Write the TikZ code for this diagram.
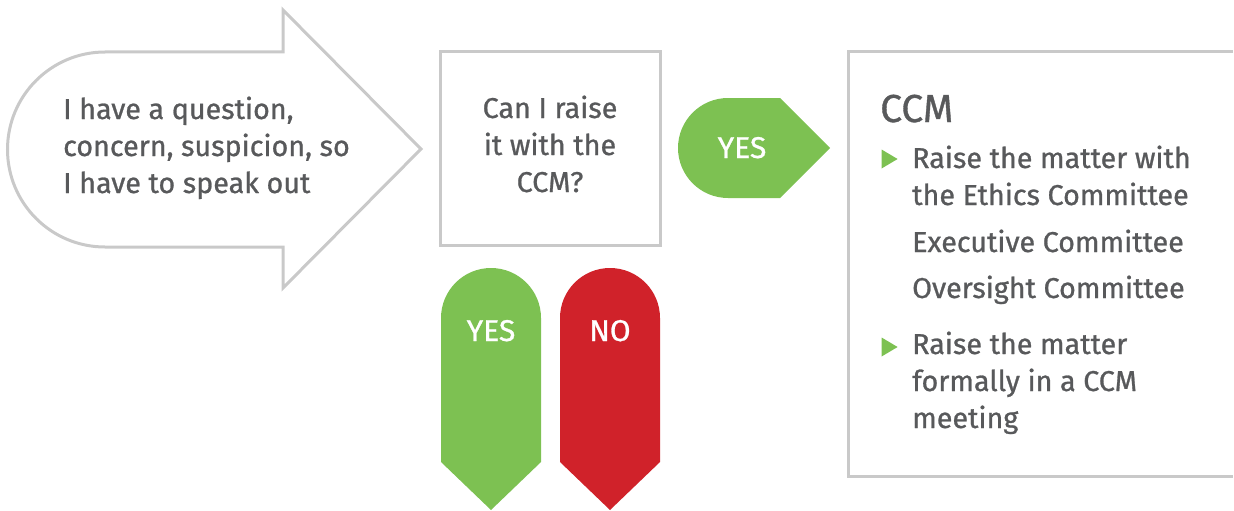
\documentclass[tikz,border=0pt]{standalone}
\usepackage{fontspec}
\setmainfont{Fira Sans}[FakeBold = 0.9]
\usetikzlibrary{shapes.geometric}
\definecolor{txtgray}{HTML}{58595B}
\definecolor{linegray}{HTML}{C9C9C9}
\definecolor{okgreen}{HTML}{7DC152}
\definecolor{nored}{HTML}{D0222A}
\tikzset{
  outline/.style = {draw = linegray, line width = 3pt, line join = miter},
  txt/.style = {text = txtgray, inner sep = 0pt, align = left,
    font = \fontsize{28.7}{37}\selectfont},
  tag/.style = {text = white, inner sep = 0pt,
    font = \fontsize{30}{32}\selectfont},
  bullet/.style = {isosceles triangle, fill = okgreen, inner sep = 0pt,
    minimum height = 16pt, minimum width = 19pt, isosceles triangle stretches}
}
\begin{document}
\begin{tikzpicture}[x = 1pt, y = -1pt]
		\useasboundingbox (0, 0) rectangle (1234, 511);
		%%%%%%%%%%%%% shapes
		\draw [outline] (105, 52) -- (283, 52) -- (283, 10) -- (421, 149)
			-- (283, 288) -- (283, 247) -- (105, 247)
			arc [start angle = 90, end angle = 270, radius = 97.5] -- cycle;
		\draw [outline] (440, 52) rectangle (660, 245);
		\fill [okgreen] (728, 98) -- (780, 98) -- (830, 148) -- (780, 198)
			-- (728, 198) arc [start angle = 90, end angle = 270, radius = 50] -- cycle;
		\draw [outline] (1233, 52) -- (848, 52) -- (848, 476) -- (1233, 476);
		\fill [okgreen] (441, 462) -- (441, 318)
			arc [start angle = 180, end angle = 360, radius = 50]
			-- (541, 462) -- (491, 510) -- cycle;
		\fill [nored] (560, 462) -- (560, 318)
			arc [start angle = 180, end angle = 360, radius = 50]
			-- (660, 462) -- (610, 510) -- cycle;
		%%%%%%%%%%%%% texts
		\node [txt, anchor = base west] (speak) at (63, 193)
			{I have a question,\\concern, suspicion, so\\I have to speak out};
		\node [txt, align = center, anchor = base] (ask) at (550, 192)
			{Can I raise\\it with the\\CCM?};
		\node [tag, anchor = base] (yes1) at (742, 158) {YES};
		\node [tag, anchor = base] (yes2) at (491, 341) {YES};
		\node [tag, anchor = base] (no) at (610, 341) {NO};
		\node [txt, anchor = base west, font = \fontsize{39}{40}\selectfont]
			(ccm) at (880, 122) {CCM};
		\node [txt, anchor = base west] (ethics) at (912, 205)
			{Raise the matter with\\the Ethics Committee};
		\node [txt, anchor = base west] (exec) at (912, 252) {Executive Committee};
		\node [txt, anchor = base west] (over) at (912, 298) {Oversight Committee};
		\node [txt, anchor = base west] (formal) at (912, 428)
			{Raise the matter\\formally in a CCM\\meeting};
		\node [bullet] (b1) at (887, 159) {};
		\node [bullet] (b2) at (887, 347) {};
\end{tikzpicture}
\end{document}
